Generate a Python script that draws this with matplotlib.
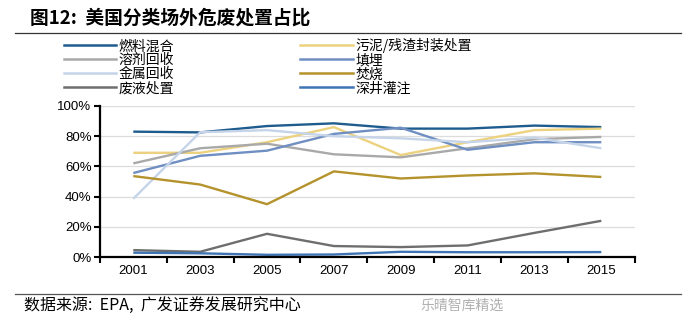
import matplotlib
matplotlib.use('Agg')
import matplotlib.pyplot as plt
from matplotlib.lines import Line2D
import numpy as np

plt.rcParams['font.family'] = ['Noto Sans CJK SC', 'DejaVu Sans']

# Data (percent).
years = ['2001', '2003', '2005', '2007', '2009', '2011', '2013', '2015']
fuel_blend = [83, 82.5, 86.7, 88.5, 85, 85, 87, 86]
sludge_stabil = [69, 69, 76, 86, 67.5, 76, 84, 85]
solvent_recov = [62, 72, 75, 68, 66, 72, 78, 79.5]
landfill = [55.6, 67, 70.4, 81.5, 85.6, 71, 76, 76]
metal_recov = [38.6, 82.6, 84, 80, 78.6, 76, 79, 72]
incinerate = [53.6, 48, 35, 56.7, 52, 54, 55.4, 53]
liquid_treat = [4.6, 3.5, 15.4, 7.3, 6.6, 7.7, 16, 24]
deep_well = [2.9, 2.5, 1.5, 1.7, 3.5, 3.2, 3.2, 3.3]

series = [
    ('燃料混合', fuel_blend, '#1f5c8e'),
    ('污泥/残渣封装处置', sludge_stabil, '#ecd27e'),
    ('溶剂回收', solvent_recov, '#a9a9a9'),
    ('填埋', landfill, '#6f8fc2'),
    ('金属回收', metal_recov, '#c5d4e8'),
    ('焚烧', incinerate, '#b4922c'),
    ('废液处置', liquid_treat, '#6e6e6e'),
    ('深井灌注', deep_well, '#3f74b4'),
]

fig = plt.figure(figsize=(6.84, 3.25), dpi=100)
ax = fig.add_axes([0.146, 0.209, 0.782, 0.465])

x = np.arange(len(years))
for name, vals, col in series:
    ax.plot(x, vals, '-', lw=1.7, c=col, solid_capstyle='butt')

ax.set_xlim(-0.5, len(years) - 0.5)
ax.set_ylim(0, 100)
ax.set_yticks(np.arange(0, 101, 20))
ax.set_yticklabels(['%d%%' % v for v in range(0, 101, 20)],
                   family='Liberation Sans', fontsize=9.5)
ax.set_xticks(x)
ax.set_xticklabels(years, family='Liberation Sans', fontsize=9.5)
ax.set_xticks(np.arange(-0.5, len(years), 1), minor=True)
ax.tick_params(axis='x', which='major', length=0, pad=6)
ax.tick_params(axis='x', which='minor', length=4, width=1.5, direction='out')
ax.tick_params(axis='y', length=4, width=1.5, direction='out', pad=2)
ax.grid(axis='y', color='#dcdcdc', lw=0.9)
ax.set_axisbelow(True)
for s in ['top', 'right']:
    ax.spines[s].set_visible(False)
ax.spines['left'].set_linewidth(1.6)
ax.spines['bottom'].set_linewidth(1.6)

# Legend, two columns.
handles = [Line2D([], [], c=col, lw=1.8) for _, _, col in series]
labels = [name for name, _, _ in series]
order = [0, 2, 4, 6, 1, 3, 5, 7]
leg = fig.legend([handles[i] for i in order], [labels[i] for i in order],
                 ncol=2, loc='upper left', bbox_to_anchor=(0.083, 0.904),
                 frameon=False, fontsize=10, handlelength=3.8,
                 handletextpad=0.15, columnspacing=9.1, labelspacing=0.0,
                 borderpad=0)

# Title and rules.
fig.text(0.044, 0.945, '图12:  美国分类场外危废处置占比', fontsize=13.5,
         fontweight='bold', va='center', ha='left')
fig.add_artist(Line2D([0.022, 0.995], [0.898, 0.898], c='#333333', lw=0.9))
fig.add_artist(Line2D([0.022, 0.995], [0.095, 0.095], c='#555555', lw=0.9))
fig.text(0.035, 0.06, '数据来源:  EPA,  广发证券发展研究中心', fontsize=11.5,
         va='center', ha='left')
fig.text(0.615, 0.06, '乐晴智库精选', fontsize=10, color='#b0b0b0',
         va='center', ha='left')

fig.savefig('out.png', dpi=100)
